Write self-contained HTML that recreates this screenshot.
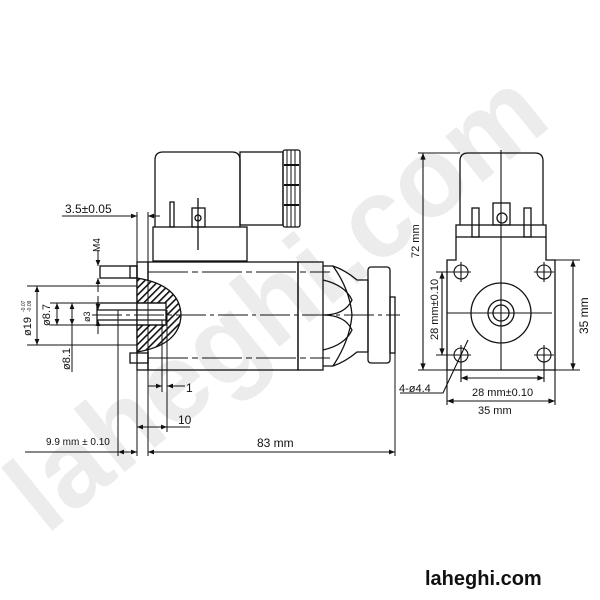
<!DOCTYPE html>
<html><head><meta charset="utf-8"><style>html,body{margin:0;padding:0;background:#fff}svg{display:block}</style></head>
<body>
<svg width="600" height="600" viewBox="0 0 600 600" xmlns="http://www.w3.org/2000/svg" font-family="Liberation Sans, Arial, sans-serif">
<defs>
<pattern id="h" width="5" height="5" patternUnits="userSpaceOnUse" patternTransform="rotate(45)"><rect width="5" height="5" fill="#fff"/><rect width="1.6" height="5" fill="#111"/></pattern>
<marker id="a" viewBox="0 0 10 10" refX="10" refY="5" markerWidth="7" markerHeight="6" orient="auto-start-reverse"><path d="M0,1 L10,5 L0,9z" fill="#111"/></marker>
</defs>
<text x="300" y="330" font-size="112" font-weight="bold" fill="#ececec" text-anchor="middle" transform="rotate(-39 300 330)">laheghi.com</text>
<g fill="none" stroke="#111" stroke-width="1.3">
<path d="M155,227 V160 Q155,152 163,152 H232 Q240,152 240,160 V227"/>
<rect x="240" y="152" width="43" height="73"/>
<rect x="283" y="150" width="17" height="77" rx="2"/>
<path d="M287,150v77M291,150v77M295,150v77" stroke-width="1"/>
<path d="M284,165h15M284,185h15M284,205h15" stroke-width="2"/>
<rect x="153" y="227" width="94" height="34"/>
<rect x="170" y="202" width="4" height="25"/>
<rect x="192" y="208" width="13" height="19"/>
<circle cx="198" cy="218" r="3"/>
<line x1="198" y1="198" x2="198" y2="250"/>
<rect x="148" y="262" width="150" height="108"/>
<rect x="298" y="262" width="25" height="108"/>
<path d="M323,266 H333 Q345,270 357,280 L368,280 V352 L357,352 Q345,362 333,366 H323"/>
<path d="M323,280 Q345,285 352,300 Q345,315 323,315 M323,350 Q345,345 352,330 Q345,315 323,315"/>
<path d="M333,266 Q350,290 352,315 Q350,340 333,366"/>
<rect x="368" y="267" width="22" height="96" rx="3"/>
<rect x="390" y="297" width="5" height="56"/>
<rect x="137" y="262" width="11" height="108"/>
<rect x="100" y="266" width="37" height="12"/>
<rect x="130" y="266" width="7" height="12"/>
<rect x="130" y="353" width="18" height="10"/>
<path d="M137,278 Q180,285 181,315 Q180,345 137,352 Z" fill="url(#h)"/>
<rect x="97" y="303" width="40" height="22" fill="#fff"/>
<rect x="137" y="303" width="29" height="22" fill="#fff"/>
<line x1="97" y1="310" x2="166" y2="310"/><line x1="97" y1="320" x2="166" y2="320"/>
<line x1="137" y1="303" x2="166" y2="303"/><line x1="137" y1="325" x2="166" y2="325"/>
</g>
<g stroke="#111" stroke-width="1" fill="none">
<line x1="92" y1="315" x2="400" y2="315" stroke-dasharray="30,4,4,4"/>
<line x1="148" y1="272" x2="330" y2="272" stroke-dasharray="40,4,6,4"/>
<line x1="148" y1="358" x2="330" y2="358" stroke-dasharray="40,4,6,4"/>
<line x1="137" y1="212" x2="137" y2="456"/>
<line x1="148" y1="212" x2="148" y2="456"/>
<line x1="118" y1="310" x2="118" y2="456"/>
<line x1="167" y1="310" x2="167" y2="432"/>
<line x1="162" y1="320" x2="162" y2="392"/>
<line x1="395" y1="300" x2="395" y2="456"/>
<line x1="27" y1="286" x2="137" y2="286"/><line x1="27" y1="345" x2="137" y2="345"/>
<line x1="50" y1="303" x2="97" y2="303"/><line x1="50" y1="325" x2="97" y2="325"/>
<line x1="62" y1="216" x2="137" y2="216" marker-end="url(#a)"/>
<line x1="160" y1="216" x2="148" y2="216" marker-end="url(#a)"/>
<line x1="37" y1="286" x2="37" y2="345" marker-start="url(#a)" marker-end="url(#a)"/>
<line x1="57" y1="303" x2="57" y2="325" marker-start="url(#a)" marker-end="url(#a)"/>
<line x1="72" y1="303" x2="72" y2="372" marker-start="url(#a)"/>
<line x1="72" y1="325" x2="72" y2="303" marker-start="url(#a)"/>
<line x1="98" y1="250" x2="98" y2="266" marker-end="url(#a)"/>
<line x1="98" y1="292" x2="98" y2="278" marker-end="url(#a)"/>
<line x1="98" y1="296" x2="98" y2="310" marker-end="url(#a)"/>
<line x1="98" y1="334" x2="98" y2="320" marker-end="url(#a)"/>
<line x1="148" y1="386" x2="162" y2="386" marker-end="url(#a)"/>
<line x1="185" y1="386" x2="167" y2="386" marker-end="url(#a)"/>
<line x1="137" y1="427" x2="167" y2="427" marker-start="url(#a)" marker-end="url(#a)"/>
<line x1="167" y1="427" x2="190" y2="427"/>
<line x1="25" y1="452" x2="118" y2="452"/>
<line x1="118" y1="452" x2="137" y2="452" marker-start="url(#a)" marker-end="url(#a)"/>
<line x1="148" y1="452" x2="395" y2="452" marker-start="url(#a)" marker-end="url(#a)"/>
</g>
<g fill="#111" font-size="12">
<text x="65" y="213">3.5±0.05</text>
<text x="100" y="252" font-size="10" transform="rotate(-90 100 252)">M4</text>
<text x="31" y="336" font-size="11" transform="rotate(-90 31 336)">ø19</text>
<text x="25" y="312" font-size="5" transform="rotate(-90 25 312)">-0.07</text>
<text x="31" y="312" font-size="5" transform="rotate(-90 31 312)">-0.09</text>
<text x="50" y="326" font-size="11" transform="rotate(-90 50 326)">ø8.7</text>
<text x="90" y="322" font-size="9" transform="rotate(-90 90 322)">ø3</text>
<text x="70" y="370" font-size="11" transform="rotate(-90 70 370)">ø8.1</text>
<text x="186" y="392">1</text>
<text x="178" y="424">10</text>
<text x="46" y="445" font-size="10">9.9 mm ± 0.10</text>
<text x="257" y="447">83 mm</text>
</g>
<g fill="none" stroke="#111" stroke-width="1.3">
<path d="M460,225 V161 Q460,153 468,153 H535 Q543,153 543,161 V225"/>
<rect x="456" y="225" width="90" height="12"/>
<rect x="472" y="208" width="7" height="29"/>
<rect x="524" y="208" width="7" height="29"/>
<rect x="493" y="203" width="17" height="22"/>
<circle cx="502" cy="218" r="5"/>
<path d="M456,237 V260 H447 V370 H555 V260 H546 V237"/>
<circle cx="501" cy="313" r="30"/>
<circle cx="501" cy="313" r="13"/>
<circle cx="501" cy="313" r="8"/>
</g>
<g fill="none" stroke="#111" stroke-width="1.1">
<circle cx="461" cy="272" r="7"/><circle cx="544" cy="272" r="7"/>
<circle cx="461" cy="355" r="7"/><circle cx="544" cy="355" r="7"/>
<path d="M451,272h20M461,262v20M534,272h20M544,262v20M451,355h20M461,345v20M534,355h20M544,345v20"/>
<line x1="447" y1="313" x2="552" y2="313"/>
<line x1="501" y1="150" x2="501" y2="370"/>
<line x1="418" y1="153" x2="460" y2="153"/>
<line x1="418" y1="370" x2="580" y2="370"/>
<line x1="555" y1="260" x2="580" y2="260"/>
<line x1="436" y1="272" x2="455" y2="272"/><line x1="436" y1="355" x2="455" y2="355"/>
<line x1="461" y1="362" x2="461" y2="382"/><line x1="544" y1="362" x2="544" y2="382"/>
<line x1="447" y1="370" x2="447" y2="405"/><line x1="555" y1="370" x2="555" y2="405"/>
<line x1="423" y1="153" x2="423" y2="370" marker-start="url(#a)" marker-end="url(#a)"/>
<line x1="573" y1="260" x2="573" y2="370" marker-start="url(#a)" marker-end="url(#a)"/>
<line x1="442" y1="272" x2="442" y2="355" marker-start="url(#a)" marker-end="url(#a)"/>
<line x1="461" y1="378" x2="544" y2="378" marker-start="url(#a)" marker-end="url(#a)"/>
<line x1="447" y1="401" x2="555" y2="401" marker-start="url(#a)" marker-end="url(#a)"/>
<path d="M400,393 H443 L468,340"/>
</g>
<g fill="#111" font-size="11">
<text x="419" y="258" transform="rotate(-90 419 258)">72 mm</text>
<text x="438" y="340" transform="rotate(-90 438 340)">28 mm±0.10</text>
<text x="588" y="334" font-size="12" transform="rotate(-90 588 334)">35 mm</text>
<text x="472" y="396">28 mm±0.10</text>
<text x="478" y="414">35 mm</text>
<text x="399" y="392">4-ø4.4</text>
</g>
<text x="425" y="585" font-size="20" font-weight="bold" fill="#111">laheghi.com</text>
</svg>
</body></html>
